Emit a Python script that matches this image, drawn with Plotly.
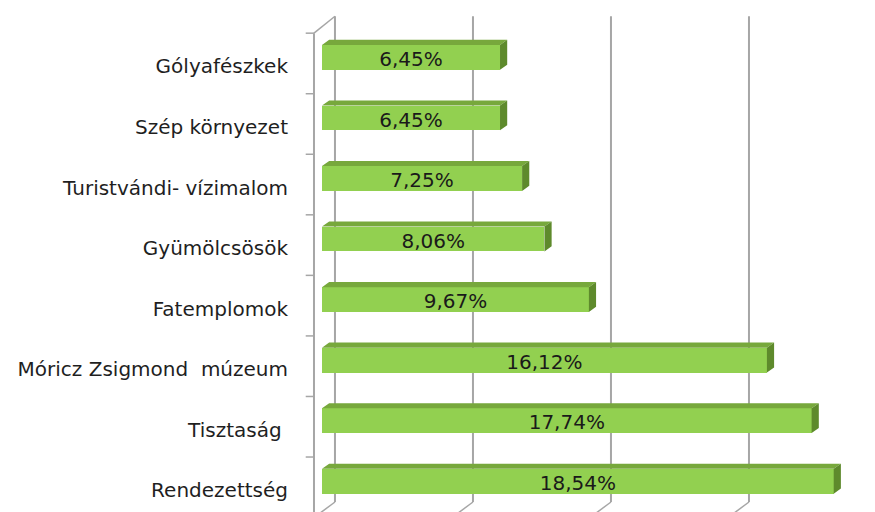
import plotly.graph_objects as go

categories = ["Rendezettség", "Tisztaság\u00a0", "Móricz Zsigmond\u00a0 múzeum", "Fatemplomok",
              "Gyümölcsösök", "Turistvándi- vízimalom", "Szép környezet", "Gólyafészkek"]
values = [18.54, 17.74, 16.12, 9.67, 8.06, 7.25, 6.45, 6.45]
value_labels = ["18,54%", "17,74%", "16,12%", "9,67%", "8,06%", "7,25%", "6,45%", "6,45%"]
grid_vals = [0, 5, 10, 15, 20]

pos = list(range(len(categories)))
OFF = 0.1      # bar centre offset (category units)
BW = 0.41      # front face height
DX = 0.26      # depth in x (%)
DY = 0.085     # depth in y (category units)
BACK_DX = 0.47 # back wall offset
FRONT_X = -0.29

FRONT = "#92D050"
TOP = "#77A83C"
SIDE = "#5E8A2C"
LINE = "#A6A6A6"
FONT = "DejaVu Sans"

fig = go.Figure()

# bar front faces
fig.add_trace(go.Bar(
    y=[p + OFF for p in pos], x=values, orientation="h", width=BW,
    marker=dict(color=FRONT, line=dict(width=0)), hoverinfo="skip", showlegend=False))

# top and side faces
tx, ty, sx, sy = [], [], [], []
for p, v in zip(pos, values):
    yt = p + OFF + BW / 2
    yb = p + OFF - BW / 2
    tx += [0, DX, v + DX, v, 0, None]
    ty += [yt, yt + DY, yt + DY, yt, yt, None]
    sx += [v, v + DX, v + DX, v, v, None]
    sy += [yt, yt + DY, yb + DY, yb, yt, None]
fig.add_trace(go.Scatter(x=tx, y=ty, mode="lines", fill="toself", fillcolor=TOP,
                         line=dict(width=0, color=TOP), hoverinfo="skip", showlegend=False))
fig.add_trace(go.Scatter(x=sx, y=sy, mode="lines", fill="toself", fillcolor=SIDE,
                         line=dict(width=0, color=SIDE), hoverinfo="skip", showlegend=False))

# data labels
fig.add_trace(go.Scatter(
    x=[v / 2 for v in values], y=[p + OFF - 0.06 for p in pos], mode="text", text=value_labels,
    textfont=dict(family=FONT, size=20, color="#1a1a1a"), hoverinfo="skip", showlegend=False))

# back-wall gridlines, floor lines and frame (decoration)
top_back = 7.5 + 0.28
bot_back = -0.5 + 0.257
shapes = []
for g in grid_vals:
    xb = g + BACK_DX
    shapes.append(dict(type="line", xref="x", yref="y", x0=xb, x1=xb, y0=top_back, y1=bot_back,
                       line=dict(color=LINE, width=2), layer="below"))
    shapes.append(dict(type="line", xref="x", yref="y", x0=xb, x1=xb - (BACK_DX - FRONT_X), y0=bot_back, y1=-0.5,
                       line=dict(color=LINE, width=1.5), layer="below"))
# front axis
shapes.append(dict(type="line", xref="x", yref="y", x0=FRONT_X, x1=FRONT_X, y0=7.5, y1=-0.6,
                   line=dict(color=LINE, width=2), layer="below"))
shapes.append(dict(type="line", xref="x", yref="y", x0=FRONT_X, x1=BACK_DX, y0=7.5, y1=top_back,
                   line=dict(color=LINE, width=1.5), layer="below"))
for b in [p + 0.5 for p in pos]:
    shapes.append(dict(type="line", xref="x", yref="y", x0=FRONT_X - 0.3, x1=FRONT_X, y0=b, y1=b,
                       line=dict(color=LINE, width=1.5), layer="below"))

fig.update_layout(
    width=867, height=504,
    margin=dict(l=292, r=0, t=7, b=0, pad=0),
    paper_bgcolor="white", plot_bgcolor="white",
    shapes=shapes, showlegend=False, bargap=0,
    xaxis=dict(range=[-0.797, 20.036], showgrid=False, zeroline=False, showticklabels=False,
               ticks="", showline=False, fixedrange=True),
    yaxis=dict(range=[-0.408, 7.80], tickmode="array", tickvals=[p - 0.05 for p in pos],
               ticktext=categories,
               showgrid=False, zeroline=False, showline=False, ticks="outside", ticklen=7,
               tickcolor="rgba(0,0,0,0)", tickfont=dict(family=FONT, size=20, color="#1f1f1f"),
               fixedrange=True, automargin=False),
)

fig.write_html("out.html", config={"displayModeBar": False})
